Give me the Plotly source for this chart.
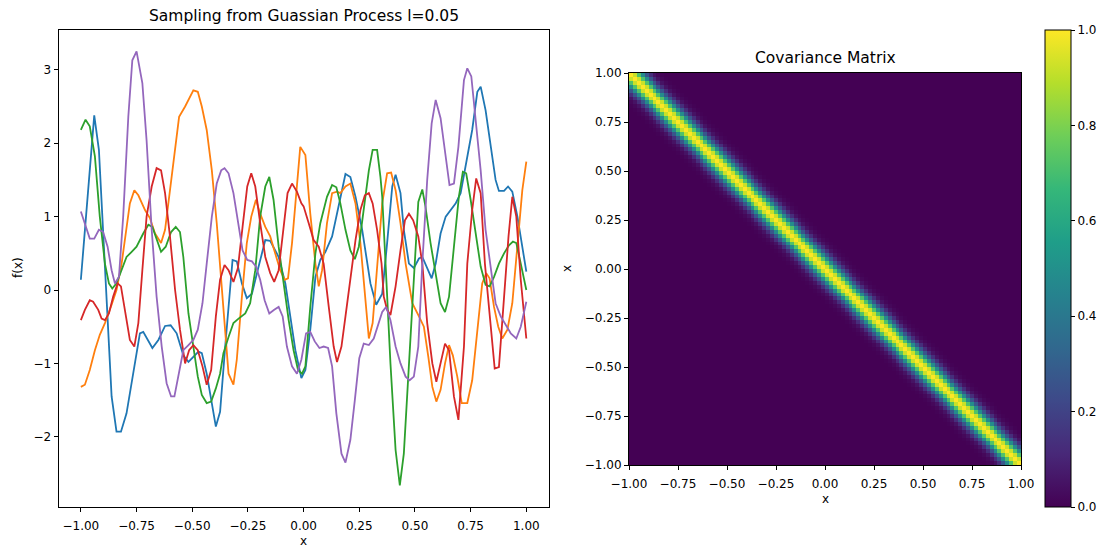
import numpy as np
import plotly.graph_objects as go

# ---------------- data ----------------
s1_x = [-1.0, -0.94, -0.919, -0.877, -0.862, -0.84, -0.82, -0.795, -0.757, -0.735, -0.72, -0.679, -0.652, -0.622, -0.597,
        -0.57, -0.54, -0.517, -0.495, -0.472, -0.457, -0.435, -0.394, -0.375, -0.352, -0.319, -0.30, -0.277, -0.255,
        -0.232, -0.202, -0.172, -0.15, -0.112, -0.082, -0.037, -0.01, 0.008, 0.03, 0.053, 0.075, 0.098, 0.128, 0.158,
        0.188, 0.21, 0.233, 0.263, 0.30, 0.326, 0.345, 0.353, 0.375, 0.398, 0.413, 0.435, 0.45, 0.473, 0.495, 0.518,
        0.533, 0.555, 0.575, 0.593, 0.615, 0.638, 0.66, 0.683, 0.705, 0.757, 0.78, 0.795, 0.817, 0.84, 0.862, 0.877,
        0.90, 0.918, 0.937, 0.96, 0.982, 1.0]
s1_y = [0.14, 2.38, 1.91, -0.54, -1.45, -1.93, -1.93, -1.68, -1.0, -0.59, -0.57, -0.79, -0.68, -0.49, -0.48,
        -0.59, -0.89, -0.98, -0.91, -0.84, -0.86, -1.14, -1.86, -1.66, -0.77, 0.41, 0.39, 0.09, -0.11,
        -0.05, 0.32, 0.68, 0.67, 0.45, 0.09, -0.82, -1.20, -1.09, -0.54, 0.18, 0.41, 0.52, 0.73, 1.18,
        1.58, 1.54, 1.27, 0.82, 0.09, -0.20, -0.09, -0.05, 0.64, 1.41, 1.57, 1.32, 0.82, 0.36, 0.30, 0.43,
        0.45, 0.30, 0.16, 0.36, 0.77, 1.0, 1.09, 1.18, 1.32, 2.18, 2.70, 2.77, 2.45, 1.95, 1.50, 1.35,
        1.35, 1.41, 1.34, 1.0, 0.59, 0.25]

s2_x = [-1.0, -0.982, -0.96, -0.937, -0.915, -0.892, -0.862, -0.84, -0.817, -0.795, -0.78, -0.76, -0.742, -0.712,
        -0.69, -0.667, -0.64, -0.622, -0.60, -0.577, -0.559, -0.532, -0.51, -0.495, -0.475, -0.457, -0.435, -0.412,
        -0.39, -0.367, -0.337, -0.315, -0.30, -0.277, -0.255, -0.235, -0.214, -0.195, -0.172, -0.15, -0.127, -0.105,
        -0.085, -0.07, -0.052, -0.033, -0.015, 0.008, 0.03, 0.053, 0.068, 0.083, 0.105, 0.128, 0.15, 0.165, 0.188,
        0.21, 0.233, 0.255, 0.275, 0.293, 0.31, 0.33, 0.353, 0.375, 0.393, 0.413, 0.435, 0.458, 0.488, 0.518, 0.54,
        0.56, 0.578, 0.596, 0.615, 0.635, 0.653, 0.67, 0.69, 0.71, 0.735, 0.757, 0.78, 0.802, 0.82, 0.835, 0.855,
        0.874, 0.892, 0.915, 0.937, 0.952, 0.967, 0.982, 1.0]
s2_y = [-1.32, -1.29, -1.09, -0.82, -0.61, -0.45, -0.20, 0.0, 0.36, 0.82, 1.18, 1.36, 1.29, 1.09,
        0.98, 0.77, 0.64, 0.82, 1.36, 2.0, 2.36, 2.50, 2.63, 2.72, 2.70, 2.50, 2.18, 1.63,
        0.91, 0.0, -1.14, -1.29, -0.95, -0.09, 0.64, 1.0, 1.23, 1.04, 0.86, 0.73, 0.50, 0.27,
        0.14, 0.16, 0.64, 1.36, 1.95, 1.84, 1.04, 0.36, 0.05, 0.27, 0.91, 1.32, 1.34, 1.32, 1.41,
        1.45, 1.18, 0.64, -0.09, -0.66, -0.45, 0.27, 1.18, 1.59, 1.60, 1.36, 0.91, 0.36, -0.18, -0.36, -0.50,
        -0.91, -1.32, -1.52, -1.36, -1.0, -0.75, -0.89, -1.18, -1.54, -1.54, -1.23, -0.54, 0.09, 0.23, 0.16, -0.23,
        -0.50, -0.66, -0.54, -0.18, 0.36, 0.91, 1.36, 1.75]

s3_x = [-1.0, -0.979, -0.96, -0.937, -0.915, -0.892, -0.874, -0.859, -0.84, -0.817, -0.795, -0.772, -0.75, -0.72,
        -0.697, -0.679, -0.66, -0.64, -0.619, -0.595, -0.574, -0.555, -0.54, -0.517, -0.495, -0.475, -0.457, -0.435,
        -0.415, -0.394, -0.375, -0.36, -0.337, -0.315, -0.292, -0.262, -0.24, -0.217, -0.195, -0.172, -0.154, -0.135,
        -0.112, -0.09, -0.067, -0.045, -0.025, -0.007, 0.008, 0.03, 0.053, 0.075, 0.105, 0.128, 0.147, 0.165, 0.188,
        0.21, 0.23, 0.248, 0.27, 0.293, 0.31, 0.33, 0.345, 0.353, 0.368, 0.39, 0.413, 0.432, 0.45, 0.473, 0.492,
        0.515, 0.533, 0.547, 0.57, 0.593, 0.615, 0.635, 0.653, 0.675, 0.697, 0.715, 0.73, 0.75, 0.772, 0.795, 0.817,
        0.835, 0.855, 0.877, 0.90, 0.922, 0.94, 0.955, 0.975, 1.0]
s3_y = [2.18, 2.32, 2.23, 1.82, 1.0, 0.36, 0.09, 0.02, 0.09, 0.27, 0.45, 0.52, 0.59, 0.77,
        0.89, 0.86, 0.68, 0.52, 0.59, 0.79, 0.86, 0.79, 0.45, -0.32, -0.77, -1.18, -1.43, -1.54,
        -1.52, -1.34, -1.14, -0.86, -0.64, -0.45, -0.39, -0.32, -0.18, 0.27, 1.0, 1.41, 1.54, 1.23,
        0.59, 0.09, -0.41, -0.82, -1.09, -1.14, -1.04, -0.23, 0.50, 0.91, 1.27, 1.43, 1.40, 1.18, 0.82,
        0.54, 0.42, 0.59, 1.14, 1.63, 1.91, 1.91, 1.54, 1.27, 0.36, -1.0, -2.18, -2.66, -2.23, -1.0, 0.0,
        1.20, 1.37, 1.14, 0.64, 0.23, -0.18, -0.30, -0.09, 0.59, 1.27, 1.61, 1.59, 1.23, 0.77, 0.32, 0.07,
        0.05, 0.18, 0.36, 0.50, 0.61, 0.66, 0.64, 0.36, 0.0]

s4_x = [-1.0, -0.982, -0.96, -0.945, -0.922, -0.907, -0.892, -0.874, -0.855, -0.835, -0.82, -0.802, -0.78, -0.76,
        -0.742, -0.724, -0.705, -0.682, -0.66, -0.64, -0.622, -0.60, -0.577, -0.555, -0.532, -0.514, -0.495, -0.475,
        -0.454, -0.435, -0.415, -0.394, -0.375, -0.355, -0.337, -0.315, -0.295, -0.274, -0.253, -0.235, -0.217,
        -0.195, -0.172, -0.15, -0.132, -0.112, -0.09, -0.072, -0.052, -0.03, -0.01, 0.0, 0.023, 0.045, 0.068, 0.09,
        0.113, 0.135, 0.15, 0.17, 0.188, 0.21, 0.233, 0.255, 0.275, 0.293, 0.31, 0.33, 0.35, 0.36, 0.375, 0.39,
        0.413, 0.435, 0.455, 0.473, 0.492, 0.515, 0.533, 0.555, 0.578, 0.596, 0.615, 0.635, 0.653, 0.675, 0.695,
        0.72, 0.735, 0.757, 0.775, 0.795, 0.814, 0.84, 0.858, 0.877, 0.90, 0.92, 0.937, 0.955, 0.975, 1.0]
s4_y = [-0.41, -0.27, -0.14, -0.16, -0.27, -0.39, -0.41, -0.32, -0.09, 0.09, 0.05, -0.27, -0.68, -0.77,
        -0.45, 0.27, 1.0, 1.41, 1.66, 1.63, 1.32, 0.73, 0.0, -0.54, -1.0, -0.82, -0.75, -0.82,
        -1.04, -1.29, -1.09, -0.36, 0.14, 0.34, 0.27, 0.11, 0.30, 0.86, 1.41, 1.59, 1.41,
        0.91, 0.45, 0.23, 0.11, 0.27, 0.82, 1.32, 1.45, 1.34, 1.18, 1.14, 0.91, 0.68, 0.59, 0.36,
        -0.23, -0.77, -0.98, -0.77, -0.36, 0.14, 0.68, 1.09, 1.29, 1.32, 1.18, 0.82, 0.36, -0.09, -0.27, -0.34,
        0.05, 0.54, 0.95, 1.04, 0.95, 0.73, 0.36, -0.45, -1.0, -1.25, -1.0, -0.73, -0.82, -1.45, -1.77,
        -0.77, 0.36, 1.09, 1.52, 1.32, 0.36, -0.54, -1.07, -1.05, -0.09, 0.73, 1.27, 1.0, 0.14, -0.66]

s5_x = [-1.0, -0.982, -0.96, -0.94, -0.919, -0.90, -0.88, -0.862, -0.847, -0.829, -0.81, -0.787, -0.769, -0.75,
        -0.724, -0.705, -0.682, -0.66, -0.637, -0.615, -0.595, -0.58, -0.559, -0.54, -0.517, -0.495, -0.475, -0.454,
        -0.435, -0.412, -0.39, -0.37, -0.355, -0.337, -0.315, -0.295, -0.274, -0.253, -0.232, -0.214, -0.195,
        -0.175, -0.154, -0.132, -0.112, -0.094, -0.075, -0.052, -0.03, -0.01, 0.011, 0.03, 0.05, 0.071, 0.09, 0.11,
        0.128, 0.147, 0.17, 0.188, 0.21, 0.23, 0.25, 0.27, 0.293, 0.315, 0.338, 0.353, 0.371, 0.39, 0.413, 0.435,
        0.458, 0.476, 0.495, 0.515, 0.533, 0.555, 0.575, 0.593, 0.615, 0.635, 0.655, 0.675, 0.695, 0.72, 0.735,
        0.753, 0.772, 0.795, 0.817, 0.84, 0.862, 0.885, 0.907, 0.93, 0.955, 0.975, 1.0]
s5_y = [1.07, 0.91, 0.70, 0.70, 0.82, 0.79, 0.59, 0.27, 0.09, 0.18, 1.0, 2.36, 3.13, 3.25,
        2.82, 2.04, 0.82, -0.09, -0.77, -1.27, -1.45, -1.45, -1.14, -0.82, -0.75, -0.68, -0.54, -0.18,
        0.36, 1.0, 1.45, 1.63, 1.66, 1.59, 1.32, 0.91, 0.54, 0.41, 0.39, 0.32, 0.14,
        -0.14, -0.32, -0.27, -0.23, -0.36, -0.77, -1.04, -1.14, -0.95, -0.59, -0.57, -0.70, -0.79, -0.77, -0.79,
        -1.04, -1.68, -2.23, -2.35, -2.04, -1.50, -0.93, -0.73, -0.75, -0.66, -0.43, -0.30, -0.23, -0.41, -0.77, -1.0,
        -1.18, -1.23, -1.18, -0.77, 0.36, 1.50, 2.27, 2.59, 2.34, 1.86, 1.43, 1.45, 1.95, 2.86, 3.02,
        2.91, 2.36, 1.63, 0.82, 0.27, -0.18, -0.36, -0.48, -0.59, -0.66, -0.50, -0.16]

series = [(s1_x, s1_y, "#1f77b4"), (s2_x, s2_y, "#ff7f0e"), (s3_x, s3_y, "#2ca02c"),
          (s4_x, s4_y, "#d62728"), (s5_x, s5_y, "#9467bd")]

# covariance: value by distance (in grid cells) from the diagonal
n_grid = 100
kernel_profile = [1.0, 0.92, 0.72, 0.48, 0.27, 0.13, 0.05, 0.02, 0.005]

x_ticks = [-1.0, -0.75, -0.5, -0.25, 0.0, 0.25, 0.5, 0.75, 1.0]
y_ticks_left = [-2, -1, 0, 1, 2, 3]
cbar_ticks = [0.0, 0.2, 0.4, 0.6, 0.8, 1.0]

# ---------------- figure ----------------
# the page body has an 8px margin, so the figure is drawn 8px smaller and
# target-screen pixel positions are shifted by that offset
OFF = 8
W, H = 1108 - OFF, 550 - OFF
def px(x):
    return (x - OFF) / W
def py(y):
    return 1 - (y - OFF) / H

FONT = "DejaVu Sans"
fig = go.Figure()

for xs, ys, col in series:
    fig.add_trace(go.Scatter(x=xs, y=ys, mode="lines", line=dict(color=col, width=1.8),
                             xaxis="x", yaxis="y", showlegend=False, hoverinfo="skip"))

# heatmap table built from the profile
cell = 2.0 / n_grid
centers = [-1 + cell * (i + 0.5) for i in range(n_grid)]
z = []
for i in range(n_grid):
    row = []
    for j in range(n_grid):
        d = abs(i - j)
        row.append(kernel_profile[d] if d < len(kernel_profile) else 0.0)
    z.append(row)
y_centers = [-c for c in centers]

fig.add_trace(go.Heatmap(
    z=z, x=centers, y=y_centers, colorscale="Viridis", zmin=0, zmax=1,
    xaxis="x2", yaxis="y2", hoverinfo="skip",
    colorbar=dict(x=px(1045), xanchor="left", y=py(268.5), yanchor="middle",
                  len=477 / H, lenmode="fraction", thickness=26, thicknessmode="pixels",
                  outlinewidth=1, outlinecolor="black",
                  tickvals=cbar_ticks, ticktext=[f"{v:.1f}" for v in cbar_ticks],
                  ticks="outside", ticklen=4, tickcolor="black",
                  tickfont=dict(family=FONT, size=12, color="black"), xpad=0, ypad=0)
))

axis_common = dict(showline=True, mirror=True, linecolor="black", linewidth=1,
                   showgrid=False, zeroline=False, ticks="outside", ticklen=4,
                   tickcolor="black", tickwidth=1, automargin=False,
                   tickfont=dict(family=FONT, size=12, color="black"))

fig.update_layout(
    width=W, height=H, margin=dict(l=0, r=0, t=0, b=0, autoexpand=False),
    paper_bgcolor="white", plot_bgcolor="white", showlegend=False,
    xaxis=dict(domain=[px(58.6), px(548.6)], range=[-1.1, 1.1], anchor="y",
               tickvals=x_ticks, ticktext=[f"{v:.2f}".replace("-", "\u2212") for v in x_ticks],
               ticklabelstandoff=4, **axis_common),
    yaxis=dict(domain=[py(507), py(29.5)], range=[-2.956, 3.549], anchor="x",
               tickvals=y_ticks_left, ticktext=[str(v).replace("-", "\u2212") for v in y_ticks_left],
               **axis_common),
    xaxis2=dict(domain=[px(629), px(1021)], range=[-1, 1], anchor="y2",
                tickvals=x_ticks, ticktext=[f"{v:.2f}".replace("-", "\u2212") for v in x_ticks],
                ticklabelstandoff=4, **axis_common),
    yaxis2=dict(domain=[py(465), py(73)], range=[-1, 1], anchor="x2",
                tickvals=x_ticks, ticktext=[f"{v:.2f}".replace("-", "\u2212") for v in x_ticks],
                **axis_common),
)

def label(text, x, y, size=12, angle=0):
    fig.add_annotation(text=text, x=px(x), y=py(y), xref="paper", yref="paper",
                       showarrow=False, textangle=angle, xanchor="center", yanchor="middle",
                       font=dict(family=FONT, size=size, color="black"))

label("Sampling from Guassian Process l=0.05", 303.6, 16, size=15.5)
label("Covariance Matrix", 825, 58, size=15.5)
label("x", 303.6, 541)
label("f(x)", 18, 268, angle=-90)
label("x", 825, 499)
label("x", 567, 269, angle=-90)

fig.write_html("out.html")
